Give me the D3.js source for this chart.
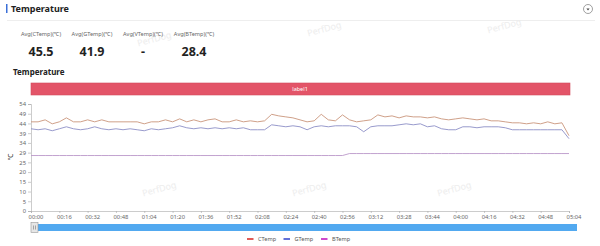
<!DOCTYPE html>
<html>
<head>
<meta charset="utf-8">
<script src="https://cdn.jsdelivr.net/npm/d3@7"></script>
<style>
  html, body { margin: 0; padding: 0; background: #fff; }
  svg { display: block; font-family: "Noto Sans", "Open Sans", sans-serif; }
</style>
</head>
<body>
<svg id="chart" width="600" height="246"></svg>
<script>
// samples every 4 seconds, 00:00 .. 05:04
let cTemp = [45, 45, 46, 44, 45, 47, 45, 45, 46, 45, 46, 45, 45, 45, 45, 45, 44, 45, 45, 46,
  45, 46.5, 45, 46, 45, 46, 46.5, 45, 45, 46, 45, 45.5, 45, 45.5, 48.8, 48, 47.5, 47, 46, 45,
  45.5, 48.8, 46, 45.5, 48.5, 46, 45, 45.5, 46, 48.5, 47.5, 48, 47, 48, 47.5, 47.5, 47, 47.5, 46.5, 46,
  46.5, 47, 46.5, 46, 46.5, 45.5, 45.5, 45, 44.5, 44.5, 44, 44.5, 44, 45, 44, 44.5, 38];
let gTemp = [41.5, 41, 41.5, 40.5, 41.5, 42.5, 41.5, 41, 41.5, 42.5, 41.5, 41, 41.5, 41, 41.5, 41, 40.5, 41.5, 41, 41.5,
  42, 43, 42, 41.5, 42, 41.5, 42, 41.5, 42, 41.5, 42, 41, 41, 41, 43.5, 43, 42.5, 43, 42.5, 41,
  42.5, 43, 42.5, 43, 43, 43, 42.5, 40, 42.5, 43, 43, 43, 43.5, 44, 43.5, 44, 42.5, 43, 41.5, 41,
  41, 42.5, 42.5, 42, 42.5, 42.5, 42.5, 42, 41, 41, 41, 41, 41, 41, 41, 41, 36.5];
let bTemp = [28, 28, 28, 28, 28, 28, 28, 28, 28, 28, 28, 28, 28, 28, 28, 28, 28, 28, 28, 28,
  28, 28, 28, 28, 28, 28, 28, 28, 28, 28, 28, 28, 28, 28, 28, 28, 28, 28, 28, 28,
  28, 28, 28, 28, 28, 29, 29, 29, 29, 29, 29, 29, 29, 29, 29, 29, 29, 29, 29, 29,
  29, 29, 29, 29, 29, 29, 29, 29, 29, 29, 29, 29, 29, 29, 29, 29, 29];
let seriesNames = ["CTemp", "GTemp", "BTemp"];
let lineColors = ["#c9957c", "#8c8fc6", "#bb98c9"];
let legendColors = ["#d9342f", "#3d4fcf", "#c21fc0"];
let statLabels = ["Avg(CTemp)(℃)", "Avg(GTemp)(℃)", "Avg(VTemp)(℃)", "Avg(BTemp)(℃)"];
let statValues = ["45.5", "41.9", "-", "28.4"];
let xTickLabels = ["00:00", "00:16", "00:32", "00:48", "01:04", "01:20", "01:36", "01:52", "02:08", "02:24",
  "02:40", "02:56", "03:12", "03:28", "03:44", "04:00", "04:16", "04:32", "04:48", "05:04"];
let yMax = 54;
let sampleStep = 4;

let svg = d3.select("#chart");

// header
svg.append("rect").attr("x", 6).attr("y", 4).attr("width", 1.5).attr("height", 9).attr("fill", "#3a6fd8");
svg.append("text").attr("x", 11).attr("y", 12).text("Temperature")
  .attr("font-size", 9).attr("font-weight", "bold").attr("fill", "#222");
svg.append("line").attr("x1", 7).attr("x2", 595).attr("y1", 20.5).attr("y2", 20.5)
  .attr("stroke", "#eeeeee");
let dd = svg.append("g").attr("transform", "translate(588,9)");
dd.append("circle").attr("r", 4.5).attr("fill", "#fff").attr("stroke", "#888").attr("stroke-width", 0.8);
dd.append("path").attr("d", "M-1.6,-0.6L1.6,-0.6L0,1.4Z").attr("fill", "#444");

// watermarks
let marks = [[155, 42], [325, 32], [505, 29], [160, 192], [310, 192], [455, 192]];
svg.selectAll(".wm").data(marks).enter().append("text")
  .attr("class", "wm")
  .attr("transform", d => `translate(${d[0]},${d[1]}) rotate(-15)`)
  .attr("text-anchor", "middle").attr("font-size", 9)
  .attr("fill", "#ededed").text("PerfDog");

// stats
let statX = [41, 92, 143, 194];
statLabels.forEach((s, i) => {
  svg.append("text").attr("x", statX[i]).attr("y", 36).attr("text-anchor", "middle")
    .attr("font-size", 5.6).attr("fill", "#666").text(s);
  svg.append("text").attr("x", statX[i]).attr("y", 56).attr("text-anchor", "middle")
    .attr("font-size", 12.5).attr("font-weight", "bold").attr("fill", "#222").text(statValues[i]);
});

svg.append("text").attr("x", 13).attr("y", 75).text("Temperature")
  .attr("font-size", 8).attr("font-weight", "bold").attr("fill", "#222");

// scales
let x = d3.scaleLinear().domain([0, 304]).range([31, 569]);
let y = d3.scaleLinear().domain([0, yMax]).range([211, 104]);

// label band
svg.append("rect").attr("x", 31).attr("y", 83).attr("width", 539).attr("height", 12)
  .attr("fill", "#e35468").attr("stroke", "#d24a5c").attr("stroke-width", 0.6);
svg.append("text").attr("x", 300).attr("y", 91.3).attr("text-anchor", "middle")
  .attr("font-size", 5.5).attr("fill", "#fff").text("label1");

// axes
let yAxis = d3.axisLeft(y)
  .tickValues(d3.range(12).map(i => yMax * i / 11))
  .tickFormat(d => Math.round(d))
  .tickSize(3).tickPadding(2);
let gy = svg.append("g").attr("transform", "translate(31,0)").call(yAxis);
let xAxis = d3.axisBottom(x)
  .tickValues(d3.range(20).map(i => i * 16))
  .tickFormat((d, i) => xTickLabels[i])
  .tickSize(2).tickPadding(2);
let gx = svg.append("g").attr("transform", "translate(0,211)").call(xAxis);
[gx, gy].forEach(g => {
  g.selectAll("path, line").attr("stroke", "#aaa").attr("stroke-width", 0.6);
  g.selectAll("text").attr("font-size", 5.8).attr("fill", "#666").attr("font-family", "Noto Sans, sans-serif");
});
gx.selectAll("text").attr("dx", 4.5);

svg.append("text").attr("transform", "translate(13,157) rotate(-90)")
  .attr("text-anchor", "middle").attr("font-size", 7).attr("fill", "#333").text("℃");

// lines
let series = [cTemp, gTemp, bTemp];
let line = d3.line().x((d, i) => x(i * sampleStep)).y(d => y(d));
svg.selectAll(".series").data(series).enter().append("path")
  .attr("class", "series")
  .attr("d", d => line(d))
  .attr("fill", "none")
  .attr("stroke", (d, i) => lineColors[i])
  .attr("stroke-width", 0.9);

// slider
svg.append("rect").attr("x", 31).attr("y", 224).attr("width", 546).attr("height", 7).attr("fill", "#52a9f0");
let handle = svg.append("g").attr("transform", "translate(31,222.5)");
handle.append("rect").attr("width", 7).attr("height", 10).attr("fill", "#e6e6e6").attr("stroke", "#999").attr("stroke-width", 0.6);
[2.5, 4.5].forEach(dx => handle.append("line").attr("x1", dx).attr("x2", dx).attr("y1", 3).attr("y2", 7)
  .attr("stroke", "#777").attr("stroke-width", 0.6));

// legend
let legendX = [247, 283.5, 321];
let lg = svg.selectAll(".lg").data(seriesNames).enter().append("g")
  .attr("class", "lg").attr("transform", (d, i) => `translate(${legendX[i]},239)`);
lg.append("rect").attr("x", 0).attr("y", -0.8).attr("width", 6.5).attr("height", 1.6)
  .attr("fill", (d, i) => legendColors[i]);
lg.append("text").attr("x", 11).attr("y", 2).attr("font-size", 5.6).attr("fill", "#555").text(d => d);
</script>
</body>
</html>
